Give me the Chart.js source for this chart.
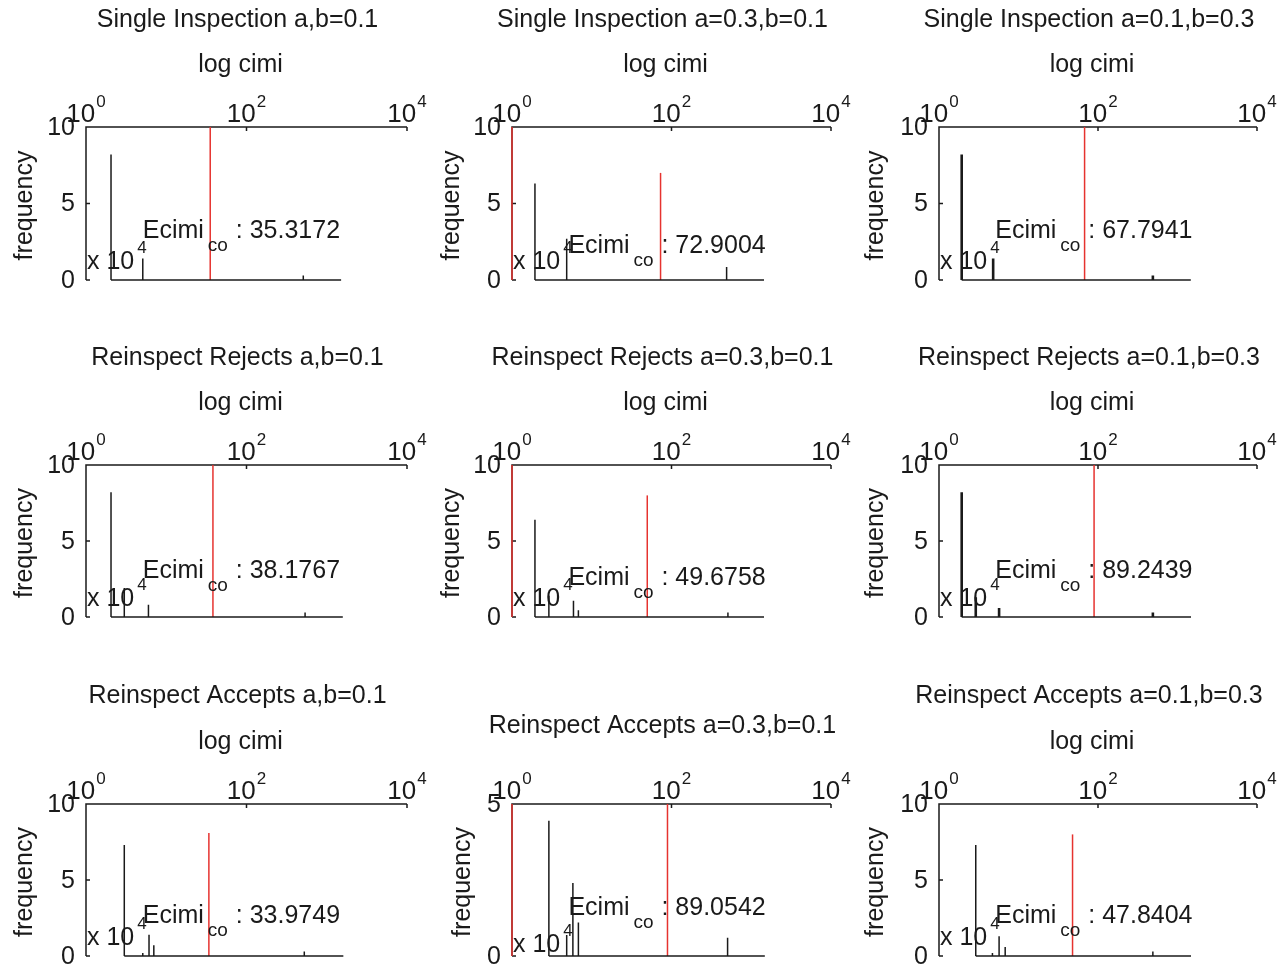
<!DOCTYPE html>
<html><head><meta charset="utf-8">
<script src="https://cdn.jsdelivr.net/npm/chart.js@4.4.1/dist/chart.umd.min.js"></script>
<style>
html,body{margin:0;padding:0;background:#fff;}
#wrap{position:relative;width:1286px;height:969px;overflow:hidden;background:#fff;}
#wrap canvas{position:absolute;left:0;top:0;}
</style></head><body><div id="wrap"></div>
<script>
// ---------------- DATA ----------------
const panelTitles = [
  'Single Inspection a,b=0.1', 'Single Inspection a=0.3,b=0.1', 'Single Inspection a=0.1,b=0.3',
  'Reinspect Rejects a,b=0.1', 'Reinspect Rejects a=0.3,b=0.1', 'Reinspect Rejects a=0.1,b=0.3',
  'Reinspect Accepts a,b=0.1', 'Reinspect Accepts a=0.3,b=0.1', 'Reinspect Accepts a=0.1,b=0.3'
];
const xAxisLabel = 'log cimi';
const yAxisLabel = 'frequency';
const showXLabel = [true, true, true, true, true, true, true, false, true];
const xTickValues = [1, 100, 10000];
const yMaxValues = [10, 10, 10, 10, 10, 10, 10, 5, 10];
const yTickValues = [[0,5,10],[0,5,10],[0,5,10],[0,5,10],[0,5,10],[0,5,10],[0,5,10],[0,5],[0,5,10]];
const ecimiValues = [35.3172, 72.9004, 67.7941, 38.1767, 49.6758, 89.2439, 33.9749, 89.0542, 47.8404];
const ecimiLineTop = [10, 7.0, 10, 10, 8.0, 10, 8.1, 5, 8.0];
const unitLine = [false, true, false, false, true, false, false, true, false];
// histogram spikes: cimi value and frequency (x 10^4)
const spikeCimi = [
  [2.05, 5.1, 510],
  [1.94, 4.85, 491],
  [1.93, 4.8, 490],
  [2.05, 3.0, 6.0, 537],
  [1.94, 2.9, 5.9, 6.8, 510],
  [1.93, 2.9, 5.7, 490],
  [3.0, 5.1, 6.1, 7.0, 525],
  [2.9, 4.85, 5.8, 6.8, 505],
  [2.9, 4.7, 5.7, 6.8, 490]
];
const spikeFreq = [
  [8.2, 1.4, 0.3],
  [6.3, 2.7, 0.85],
  [8.2, 1.4, 0.3],
  [8.2, 1.9, 0.8, 0.3],
  [6.4, 1.4, 1.07, 0.45, 0.3],
  [8.2, 1.3, 0.6, 0.3],
  [7.3, 0.2, 1.4, 0.7, 0.3],
  [4.45, 0.69, 2.4, 1.1, 0.6],
  [7.3, 0.2, 1.3, 0.6, 0.3]
];
const histRange = [
  [2.05, 1510], [1.94, 1445], [1.93, 1470],
  [2.05, 1585], [1.94, 1445], [1.93, 1480],
  [3.0, 1610], [2.9, 1480], [2.9, 1480]
];
const annotX = 5.1;
const annotY = [3.33, 2.35, 3.33, 3.16, 2.7, 3.16, 2.76, 1.64, 2.76];

// ---------------- LAYOUT / STYLE ----------------
const frames = [
  [86,127,407,280],[512,127,831,280],[939,127,1257,280],
  [86,465,407,617],[512,465,831,617],[939,465,1257,617],
  [86,804,407,956],[512,804,831,956],[939,804,1257,956]
];
const titleDy = [100,100,100,100,100,100,101,71,101];
const yLabelOff = [61,60,63,61,60,63,61,49,63];
const mulDy = [11,11,11,11,11,11,11,4,11];
const spikeWidth = [1.5,1.5,2.6,1.5,1.5,2.6,1.5,1.5,1.5];
const W = 1286, H = 969;
const FONT = '"Liberation Sans", Arial, Helvetica, sans-serif';
const INK = '#1a1a1a';
const RED = '#e6332f';
const f = px => px + 'px ' + FONT;

function makePlugin(i){
  return {
    id: 'matlabAxes' + i,
    beforeDatasetsDraw(chart){
      const ctx = chart.ctx, a = chart.chartArea, xs = chart.scales.x, ys = chart.scales.y;
      ctx.save();
      ctx.strokeStyle = INK; ctx.lineWidth = 1.5;
      ctx.beginPath();
      ctx.moveTo(a.left, a.bottom); ctx.lineTo(a.left, a.top); ctx.lineTo(a.right, a.top);
      xTickValues.forEach(v => { const px = xs.getPixelForValue(v); ctx.moveTo(px, a.top); ctx.lineTo(px, a.top + 4); });
      yTickValues[i].forEach(v => { const py = ys.getPixelForValue(v); ctx.moveTo(a.left, py); ctx.lineTo(a.left + 4, py); });
      ctx.stroke();
      ctx.restore();
    },
    afterDraw(chart){
      const ctx = chart.ctx, a = chart.chartArea, xs = chart.scales.x, ys = chart.scales.y;
      const mid = (a.left + a.right) / 2;
      ctx.save();
      ctx.fillStyle = INK;
      ctx.textBaseline = 'alphabetic';
      // title
      ctx.font = f(25); ctx.textAlign = 'center';
      ctx.fillText(panelTitles[i], mid - 9, a.top - titleDy[i]);
      if (showXLabel[i]) ctx.fillText(xAxisLabel, mid - 6, a.top - 55);
      // x tick labels 10^n
      ctx.textAlign = 'left';
      xTickValues.forEach(v => {
        const px = xs.getPixelForValue(v);
        const e = String(Math.round(Math.log10(v)));
        ctx.font = f(26); const w10 = ctx.measureText('10').width;
        ctx.font = f(17); const we = ctx.measureText(e).width;
        const x0 = px - (w10 + 1 + we) / 2;
        ctx.font = f(26); ctx.fillText('10', x0, a.top - 5);
        ctx.font = f(17); ctx.fillText(e, x0 + w10 + 1, a.top - 20);
      });
      // y tick labels
      ctx.font = f(25); ctx.textAlign = 'right'; ctx.textBaseline = 'middle';
      yTickValues[i].forEach(v => {
        ctx.fillText(String(v), a.left - 11, ys.getPixelForValue(v) + 1);
      });
      // y label
      ctx.save();
      ctx.translate(a.left - yLabelOff[i], (a.top + a.bottom) / 2 + 2);
      ctx.rotate(-Math.PI / 2);
      ctx.textAlign = 'center'; ctx.textBaseline = 'middle';
      ctx.fillText(yAxisLabel, 0, 0);
      ctx.restore();
      // x 10^4 multiplier
      ctx.textAlign = 'left'; ctx.textBaseline = 'alphabetic';
      ctx.font = f(25);
      const wm = ctx.measureText('x 10').width;
      ctx.fillText('x 10', a.left + 1, a.bottom - mulDy[i]);
      ctx.font = f(17);
      ctx.fillText('4', a.left + 1 + wm + 3, a.bottom - mulDy[i] - 16);
      // annotation
      const ax = xs.getPixelForValue(annotX);
      const ay = ys.getPixelForValue(annotY[i]) + 9;
      ctx.font = f(25); ctx.fillText('Ecimi', ax, ay);
      ctx.font = f(19); ctx.fillText('co', ax + 65, ay + 13);
      ctx.font = f(25); ctx.fillText(': ' + ecimiValues[i].toFixed(4), ax + 93, ay);
      ctx.restore();
    }
  };
}

const wrap = document.getElementById('wrap');
for (let i = 0; i < 9; i++) {
  const cv = document.createElement('canvas');
  cv.width = W; cv.height = H;
  cv.style.width = W + 'px'; cv.style.height = H + 'px';
  wrap.appendChild(cv);
  const fr = frames[i];
  const spikes = [];
  spikeCimi[i].forEach((c, k) => { spikes.push({x: c, y: 0}, {x: c, y: spikeFreq[i][k]}, {x: c, y: null}); });
  const datasets = [
    {data: spikes, borderColor: INK, borderWidth: spikeWidth[i]},
    {data: [{x: histRange[i][0], y: 0}, {x: histRange[i][1], y: 0}], borderColor: INK, borderWidth: 1.5},
    {data: [{x: ecimiValues[i], y: 0}, {x: ecimiValues[i], y: ecimiLineTop[i]}], borderColor: RED, borderWidth: 1.5}
  ];
  if (unitLine[i]) datasets.push({data: [{x: 1, y: 0}, {x: 1, y: yMaxValues[i]}], borderColor: RED, borderWidth: 1.5});
  datasets.forEach(d => { d.pointRadius = 0; d.fill = false; d.tension = 0; d.spanGaps = false; d.clip = false; });
  new Chart(cv.getContext('2d'), {
    type: 'line',
    data: {datasets},
    options: {
      responsive: false, animation: false, events: [],
      layout: {padding: {left: fr[0], top: fr[1], right: W - fr[2], bottom: H - fr[3]}},
      scales: {
        x: {type: 'logarithmic', min: 1, max: 10000, display: false},
        y: {type: 'linear', min: 0, max: yMaxValues[i], display: false}
      },
      plugins: {legend: {display: false}, tooltip: {enabled: false}, title: {display: false}}
    },
    plugins: [makePlugin(i)]
  });
}
</script></body></html>
